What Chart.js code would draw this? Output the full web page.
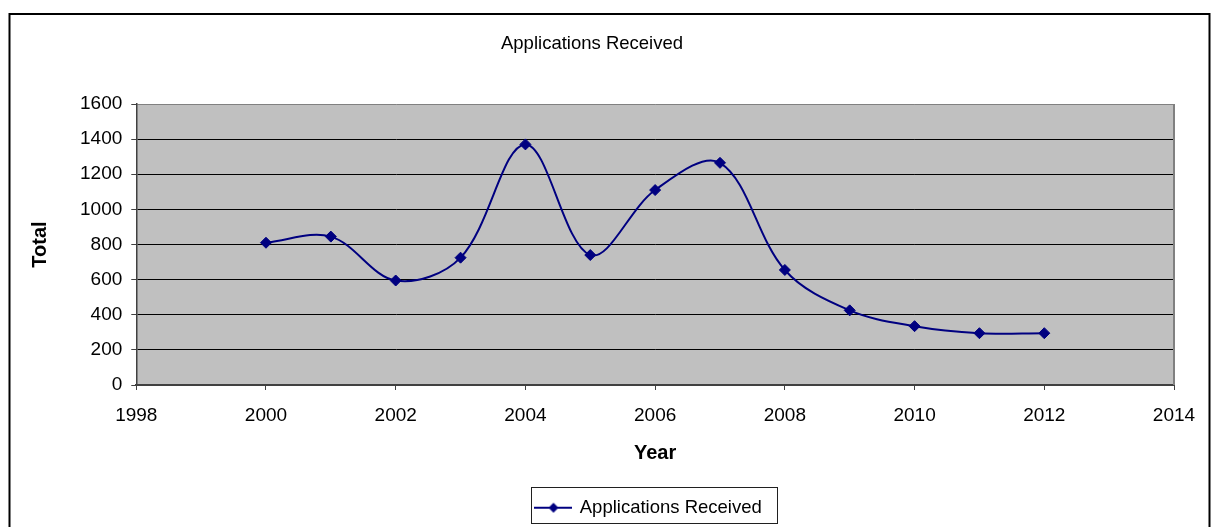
<!DOCTYPE html>
<html>
<head>
<meta charset="utf-8">
<title>Applications Received</title>
<script src="https://cdn.jsdelivr.net/npm/chart.js@4/dist/chart.umd.min.js"></script>
<style>
  html, body { margin: 0; padding: 0; background: #ffffff; }
  #wrap { width: 1217px; height: 527px; position: relative; }
</style>
</head>
<body>
<div id="wrap"><canvas id="chart" width="1217" height="527"></canvas></div>
<script>
// Applications received per year
const years = [2000, 2001, 2002, 2003, 2004, 2005, 2006, 2007, 2008, 2009, 2010, 2011, 2012];
const applications = [810, 845, 595, 725, 1370, 740, 1110, 1265, 655, 425, 335, 295, 295];

// Axis ranges and tick steps
const yearRange = [1998, 2014];
const yearStep = 2;
const totalRange = [0, 1600];
const totalStep = 200;

const NAVY = '#000080';
const FONT = '"Liberation Sans", Arial, sans-serif';
const LEGEND_FONT_SIZE = 18.5;
const LEGEND_SYMBOL_WIDTH = 34;

// Legend symbol: short line with a diamond marker in the middle
function makeLegendSymbol() {
  const c = document.createElement('canvas');
  c.width = 38; c.height = 12;
  const g = c.getContext('2d');
  g.strokeStyle = NAVY;
  g.lineWidth = 2;
  g.beginPath();
  g.moveTo(0, 6); g.lineTo(38, 6);
  g.stroke();
  g.fillStyle = NAVY;
  g.beginPath();
  g.moveTo(19, 1); g.lineTo(24, 6); g.lineTo(19, 11); g.lineTo(14, 6);
  g.closePath();
  g.fill();
  return c;
}
const legendSymbol = makeLegendSymbol();

// Grey plot background, plot frame, outer chart frame and legend frame
const framePlugin = {
  id: 'frames',
  afterLayout(chart) {
    // nudge the legend a little to the left of the plot centre
    if (chart.legend) {
      chart.legend.left -= 6;
      chart.legend.right -= 6;
    }
  },
  beforeDraw(chart) {
    const { ctx, chartArea: a } = chart;
    ctx.save();
    ctx.fillStyle = '#ffffff';
    ctx.fillRect(0, 0, chart.width, chart.height);
    ctx.fillStyle = '#c0c0c0';
    ctx.fillRect(a.left, a.top, a.right - a.left, a.bottom - a.top);
    ctx.restore();
  },
  afterDraw(chart) {
    const { ctx, chartArea: a } = chart;
    ctx.save();
    // right edge of the plot
    ctx.strokeStyle = '#808080';
    ctx.lineWidth = 2;
    ctx.beginPath();
    ctx.moveTo(a.right, a.top);
    ctx.lineTo(a.right, a.bottom);
    ctx.stroke();
    // outer frame
    ctx.strokeStyle = '#000000';
    ctx.lineWidth = 2;
    ctx.strokeRect(9.5, 14, 1200, 600);
    // legend frame, sized from the legend text
    const lg = chart.legend;
    if (lg && lg.legendItems && lg.legendItems.length) {
      ctx.font = LEGEND_FONT_SIZE + 'px ' + FONT;
      const tw = ctx.measureText(lg.legendItems[0].text).width;
      const itemW = LEGEND_SYMBOL_WIDTH + LEGEND_FONT_SIZE / 2 + tw;
      const cx = (lg.left + lg.right) / 2;
      const x0 = cx - itemW / 2;
      const cy = lg.top + lg.options.labels.padding + lg.options.labels.font.size * 0.6;
      const left = Math.round(x0 - 5) + 0.5;
      const right = Math.round(x0 + itemW + 15) + 0.5;
      ctx.strokeStyle = '#202020';
      ctx.lineWidth = 1;
      ctx.strokeRect(left, Math.round(cy - 23) + 0.5, right - left, 36);
    }
    ctx.restore();
  }
};

new Chart(document.getElementById('chart'), {
  type: 'line',
  data: {
    datasets: [{
      label: 'Applications Received',
      data: years.map((y, i) => ({ x: y, y: applications[i] })),
      borderColor: NAVY,
      backgroundColor: NAVY,
      borderWidth: 2,
      tension: 0.35,
      pointStyle: 'rectRot',
      pointRadius: 5.5,
      pointBackgroundColor: NAVY,
      pointBorderColor: NAVY,
      pointBorderWidth: 1,
      fill: false
    }]
  },
  options: {
    responsive: false,
    animation: false,
    devicePixelRatio: 1,
    layout: { padding: { left: 10, right: 43, top: 9, bottom: 0 } },
    plugins: {
      title: {
        display: true,
        text: 'Applications Received',
        color: '#000000',
        font: { family: FONT, size: 18.5, weight: 'normal' },
        padding: { top: 24, bottom: 48.8 }
      },
      legend: {
        display: true,
        position: 'bottom',
        fullSize: false,
        labels: {
          color: '#000000',
          font: { family: FONT, size: LEGEND_FONT_SIZE },
          usePointStyle: true,
          pointStyle: legendSymbol,
          pointStyleWidth: LEGEND_SYMBOL_WIDTH,
          padding: 10
        }
      },
      tooltip: { enabled: false }
    },
    scales: {
      x: {
        type: 'linear',
        min: yearRange[0],
        max: yearRange[1],
        ticks: {
          stepSize: yearStep,
          color: '#000000',
          font: { family: FONT, size: 19 },
          padding: 14,
          maxRotation: 0,
          callback: v => String(v)
        },
        grid: {
          drawOnChartArea: false,
          drawTicks: true,
          tickLength: 5,
          tickColor: '#404040',
          tickWidth: 1
        },
        border: { display: true, color: '#404040', width: 2 },
        title: {
          display: true,
          text: 'Year',
          color: '#000000',
          font: { family: FONT, size: 20, weight: 'bold' },
          padding: { top: 1, bottom: 22.7 }
        }
      },
      y: {
        min: totalRange[0],
        max: totalRange[1],
        ticks: {
          stepSize: totalStep,
          color: '#000000',
          font: { family: FONT, size: 19 },
          padding: 9,
          callback: v => String(v)
        },
        grid: {
          color: ctx => (ctx.tick && ctx.tick.value === totalRange[1]) ? '#808080' : '#000000',
          lineWidth: 1,
          drawTicks: true,
          tickLength: 5,
          tickColor: '#404040'
        },
        border: { display: true, color: '#404040', width: 1.5 },
        title: {
          display: true,
          text: 'Total',
          color: '#000000',
          font: { family: FONT, size: 20, weight: 'bold' },
          padding: { top: 18, bottom: 19 }
        }
      }
    }
  },
  plugins: [framePlugin]
});
</script>
</body>
</html>
